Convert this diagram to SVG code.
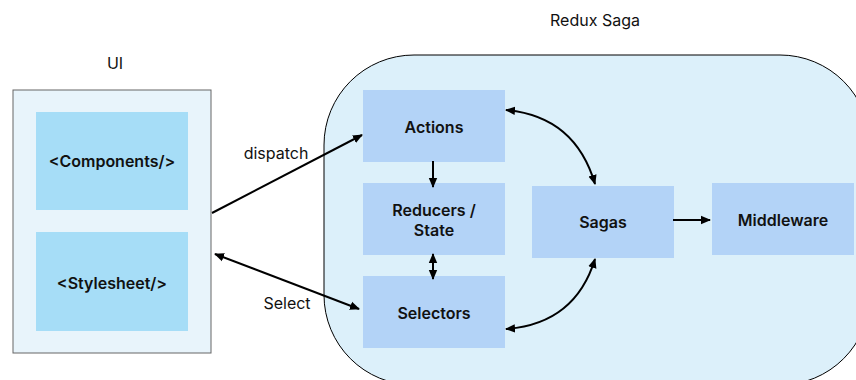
<svg xmlns="http://www.w3.org/2000/svg" width="856" height="380" viewBox="0 0 856 380">
  <defs>
    <marker id="arrow" viewBox="0 0 10 10" refX="9" refY="5" markerWidth="10" markerHeight="10" markerUnits="userSpaceOnUse" orient="auto-start-reverse">
      <path d="M0,0.8 L10,5 L0,9.2 z" fill="#000"/>
    </marker>
  </defs>
  <style>
    .title { font-family: Inter, "Liberation Sans", sans-serif; font-size: 16px; fill: #111; text-anchor: middle; }
    .label { font-family: Inter, "Liberation Sans", sans-serif; font-size: 16px; fill: #111; text-anchor: middle; }
    .node-text { font-family: Inter, "Liberation Sans", sans-serif; font-size: 16px; font-weight: 600; fill: #111; text-anchor: middle; }
    .ui-item { fill: #a6ddf7; }
    .store-item { fill: #b3d3f7; }
    .edge { fill: none; stroke: #000; stroke-width: 2; }
  </style>

  <rect width="856" height="380" fill="#ffffff"/>

  <!-- UI panel -->
  <g id="ui">
    <text class="title" x="115" y="69">UI</text>
    <rect x="13" y="90" width="198" height="263" fill="#e8f4fb" stroke="#666" stroke-width="1"/>
  </g>
  <g id="components">
    <rect class="ui-item" x="36" y="112" width="152" height="98"/>
    <text class="node-text" x="112" y="167">&lt;Components/&gt;</text>
  </g>
  <g id="stylesheet">
    <rect class="ui-item" x="36" y="232" width="152" height="99"/>
    <text class="node-text" x="112" y="289">&lt;Stylesheet/&gt;</text>
  </g>

  <!-- Redux Saga container -->
  <g id="redux-saga">
    <text class="title" x="595" y="26">Redux Saga</text>
    <rect x="324" y="55" width="546" height="330" rx="90" ry="90" fill="#dcf0fa" stroke="#000" stroke-width="1"/>
  </g>
  <g id="actions">
    <rect class="store-item" x="363" y="90" width="142" height="72"/>
    <text class="node-text" x="434" y="133">Actions</text>
  </g>
  <g id="reducers">
    <rect class="store-item" x="363" y="183" width="142" height="72"/>
    <text class="node-text" x="434" y="216">Reducers /</text>
    <text class="node-text" x="434" y="236">State</text>
  </g>
  <g id="selectors">
    <rect class="store-item" x="363" y="276" width="142" height="72"/>
    <text class="node-text" x="434" y="319">Selectors</text>
  </g>
  <g id="sagas">
    <rect class="store-item" x="532" y="186" width="142" height="72"/>
    <text class="node-text" x="603" y="228">Sagas</text>
  </g>
  <g id="middleware">
    <rect class="store-item" x="712" y="183" width="142" height="72"/>
    <text class="node-text" x="783" y="226">Middleware</text>
  </g>

  <!-- Connectors -->
  <g id="connectors">
    <path class="edge" d="M212,213 L362,135" marker-end="url(#arrow)"/>
    <text class="label" x="276" y="159">dispatch</text>
    <path class="edge" d="M215,254 L359,309" marker-start="url(#arrow)" marker-end="url(#arrow)"/>
    <text class="label" x="287" y="309">Select</text>
    <path class="edge" d="M433,161 L433,187" marker-end="url(#arrow)"/>
    <path class="edge" d="M433,254 L433,279" marker-start="url(#arrow)" marker-end="url(#arrow)"/>
    <path class="edge" d="M506,110 Q575,116 595,184" marker-start="url(#arrow)" marker-end="url(#arrow)"/>
    <path class="edge" d="M506,329 Q575,324 595,259" marker-start="url(#arrow)" marker-end="url(#arrow)"/>
    <path class="edge" d="M673,220 L710,220" marker-end="url(#arrow)"/>
  </g>
</svg>
